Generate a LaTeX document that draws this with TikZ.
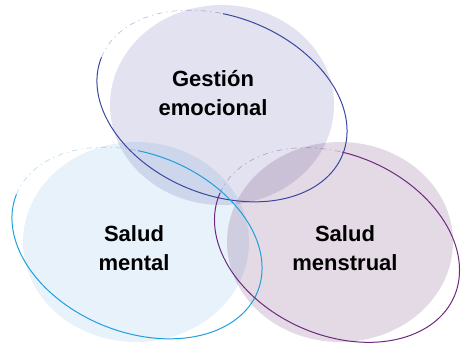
\documentclass[tikz,border=0pt]{standalone}
\usepackage{fontspec}
\setmainfont{Liberation Sans}
\begin{document}
\begin{tikzpicture}[x=0.75pt,y=-0.75pt,
  lbl/.style={font=\fontsize{16.5}{22}\selectfont\bfseries, align=center, text=black},
  ring/.style={line width=0.75pt},
  faint/.style={line width=0.5pt, opacity=0.35, dash pattern=on 4pt off 3pt on 1pt off 3pt}]
\useasboundingbox (0,0) rectangle (461,344);
\definecolor{fillT}{RGB}{227,226,240}
\definecolor{fillL}{RGB}{232,242,251}
\definecolor{fillR}{RGB}{228,218,229}
\definecolor{lineT}{RGB}{58,72,158}
\definecolor{lineL}{RGB}{30,160,220}
\definecolor{lineR}{RGB}{110,40,128}
% fills
\begin{scope}[blend group=multiply]
  \fill[fillT] (222,105) ellipse [x radius=112, y radius=100];
  \fill[fillL] (136,242) ellipse [x radius=113, y radius=100];
  \fill[fillR] (340,242) ellipse [x radius=113, y radius=100];
\end{scope}
% outlines
\begin{scope}[shift={(222,106)}, rotate=-22]
  \coordinate (tc) at (0,0);
  \draw[ring, lineT] (255:130 and 89) arc[start angle=255, end angle=540, x radius=130, y radius=89];
  \draw[faint, lineT] (180:130 and 89) arc[start angle=180, end angle=255, x radius=130, y radius=89];
\end{scope}
\begin{scope}[shift={(137,243)}, rotate=-22]
  \coordinate (lc) at (0,0);
  \draw[ring, lineL] (255:130 and 89) arc[start angle=255, end angle=540, x radius=130, y radius=89];
  \draw[faint, lineL] (180:130 and 89) arc[start angle=180, end angle=255, x radius=130, y radius=89];
\end{scope}
\begin{scope}[shift={(337,245)}, rotate=-24]
  \coordinate (rc) at (0,0);
  \draw[ring, lineR] (255:128 and 90) arc[start angle=255, end angle=540, x radius=128, y radius=90];
  \draw[faint, lineR] (180:128 and 90) arc[start angle=180, end angle=255, x radius=128, y radius=90];
\end{scope}
% labels
\node[lbl] (gest) at (213,93) {Gesti\'on\\emocional};
\node[lbl] (ment) at (134,248) {Salud\\mental};
\node[lbl] (mens) at (345,248) {Salud\\menstrual};
\end{tikzpicture}
\end{document}
